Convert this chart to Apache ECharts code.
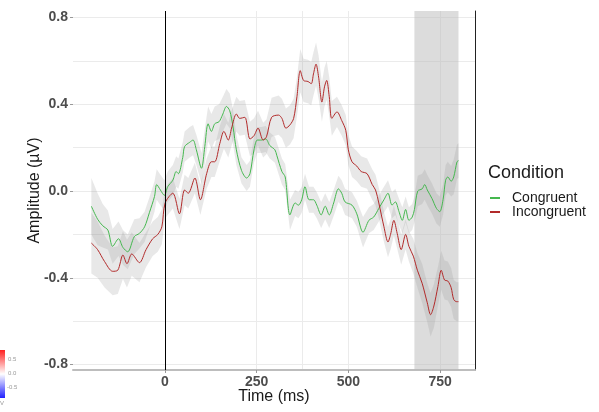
<!DOCTYPE html>
<html>
<head>
<meta charset="utf-8">
<script src="https://cdn.jsdelivr.net/npm/echarts@6.0.0/dist/echarts.min.js"></script>
<style>
html, body { margin: 0; padding: 0; background: #fff; }
#main { width: 599px; height: 412px; }
</style>
</head>
<body>
<div id="main"></div>
<script>
// ERP grand averages, time in ms, amplitude in µV, se = ribbon half width
var congruentTime = [
  -200, -183, -169, -155, -142, -126, -114, -101, -83, -69,
  -55, -42, -28, -22, -12, -1, 8, 22, 31, 37,
  49, 54, 68, 77, 86, 100, 109, 118, 127, 136,
  148, 157, 168, 177, 186, 195, 209, 223, 232, 243,
  252, 263, 275, 286, 300, 305, 319, 328, 341, 355,
  364, 373, 382, 393, 405, 414, 426, 437, 448, 460,
  473, 482, 491, 510, 523, 540, 556, 569, 583, 597,
  608, 619, 628, 638, 647, 656, 665, 674, 680, 689,
  701, 708, 715, 728, 740, 749, 758, 765, 771, 780,
  787, 796, 800
];
var congruentAmp = [
  -0.07, -0.13, -0.16, -0.18, -0.255, -0.22, -0.26, -0.28, -0.21, -0.195,
  -0.165, -0.10, -0.025, 0.03, 0.005, -0.02, 0.02, 0.05, 0.09, 0.08,
  0.155, 0.205, 0.225, 0.235, 0.19, 0.105, 0.205, 0.31, 0.275, 0.31,
  0.32, 0.35, 0.39, 0.37, 0.295, 0.19, 0.095, 0.06, 0.08, 0.19,
  0.235, 0.235, 0.24, 0.21, 0.19, 0.165, 0.09, 0.065, -0.11, -0.055,
  -0.065, -0.04, 0.02, -0.04, -0.04, -0.065, -0.11, -0.07, -0.11, -0.055,
  0.01, -0.01, -0.05, -0.065, -0.105, -0.19, -0.135, -0.12, -0.08, -0.04,
  -0.01, -0.065, -0.05, -0.095, -0.135, -0.085, -0.135, -0.12, -0.085, 0.0,
  0.01, 0.03, 0.005, -0.035, -0.08, -0.095, -0.04, 0.05, 0.065, 0.045,
  0.065, 0.135, 0.14
];
var congruentSe = [
  0.13, 0.12, 0.10, 0.09, 0.08, 0.08, 0.08, 0.08, 0.08, 0.07,
  0.07, 0.07, 0.07, 0.07, 0.07, 0.07, 0.07, 0.07, 0.07, 0.07,
  0.07, 0.07, 0.07, 0.07, 0.07, 0.07, 0.08, 0.08, 0.08, 0.08,
  0.08, 0.08, 0.08, 0.08, 0.08, 0.07, 0.06, 0.06, 0.06, 0.06,
  0.06, 0.06, 0.06, 0.06, 0.06, 0.06, 0.06, 0.06, 0.07, 0.06,
  0.06, 0.06, 0.06, 0.06, 0.06, 0.06, 0.06, 0.06, 0.06, 0.06,
  0.06, 0.06, 0.06, 0.06, 0.06, 0.07, 0.06, 0.06, 0.06, 0.06,
  0.06, 0.06, 0.06, 0.06, 0.06, 0.06, 0.06, 0.06, 0.06, 0.07,
  0.07, 0.07, 0.07, 0.07, 0.07, 0.07, 0.07, 0.07, 0.07, 0.07,
  0.08, 0.08, 0.08
];

var incongruentTime = [
  -200, -183, -164, -142, -128, -114, -103, -90, -69, -51,
  -33, -19, -8, 1, 22, 40, 54, 64, 82, 97,
  114, 127, 136, 150, 161, 173, 182, 195, 204, 218,
  232, 243, 254, 268, 277, 291, 310, 319, 330, 341,
  351, 360, 369, 378, 390, 399, 405, 412, 419, 428,
  435, 441, 448, 455, 469, 482, 493, 500, 510, 523,
  535, 551, 565, 574, 583, 597, 608, 615, 624, 633,
  644, 656, 665, 677, 688, 701, 715, 724, 733, 744,
  753, 762, 771, 780, 787, 795, 800
];
var incongruentAmp = [
  -0.24, -0.27, -0.325, -0.37, -0.365, -0.295, -0.335, -0.29, -0.33, -0.27,
  -0.22, -0.20, -0.165, -0.055, -0.01, -0.105, 0.005, -0.01, 0.06, -0.04,
  0.08, 0.135, 0.135, 0.22, 0.275, 0.235, 0.29, 0.355, 0.335, 0.34,
  0.24, 0.255, 0.29, 0.235, 0.25, 0.34, 0.35, 0.335, 0.29, 0.305,
  0.335, 0.435, 0.555, 0.51, 0.505, 0.495, 0.54, 0.585, 0.525, 0.41,
  0.48, 0.51, 0.435, 0.335, 0.365, 0.325, 0.28, 0.19, 0.135, 0.115,
  0.09, 0.08, 0.03, 0.005, -0.055, -0.165, -0.235, -0.20, -0.135, -0.195,
  -0.27, -0.20, -0.255, -0.30, -0.365, -0.425, -0.515, -0.57, -0.53, -0.44,
  -0.365, -0.41, -0.415, -0.445, -0.50, -0.51, -0.51
];
var incongruentSe = [
  0.14, 0.13, 0.12, 0.11, 0.11, 0.11, 0.11, 0.10, 0.09, 0.08,
  0.08, 0.08, 0.08, 0.07, 0.07, 0.07, 0.07, 0.07, 0.07, 0.07,
  0.07, 0.07, 0.07, 0.08, 0.08, 0.08, 0.08, 0.08, 0.08, 0.08,
  0.08, 0.08, 0.08, 0.08, 0.08, 0.09, 0.09, 0.09, 0.09, 0.09,
  0.09, 0.09, 0.10, 0.10, 0.10, 0.10, 0.10, 0.10, 0.10, 0.09,
  0.09, 0.09, 0.09, 0.08, 0.07, 0.07, 0.07, 0.07, 0.07, 0.07,
  0.07, 0.07, 0.07, 0.07, 0.07, 0.07, 0.07, 0.07, 0.07, 0.07,
  0.07, 0.07, 0.07, 0.08, 0.08, 0.09, 0.09, 0.10, 0.10, 0.09,
  0.09, 0.09, 0.09, 0.09, 0.09, 0.09, 0.09
];

var xTickValues = [0, 250, 500, 750];
var xGridValues = [0, 250, 375, 500, 750];
var yTickValues = [-0.8, -0.4, 0, 0.4, 0.8];
var yGridValues = [-0.8, -0.6, -0.4, -0.2, 0, 0.2, 0.4, 0.6, 0.8];
var shadedWindow = [680, 800];
var colorbarLabels = ['0.5', '0.0', '-0.5'];

var FONT = '"Liberation Sans", Arial, sans-serif';
var GREEN = '#45b84f';
var RED = '#b22a2a';

function pairs(t, v) {
  return t.map(function (x, i) { return [x, v[i]]; });
}

// ribbon polygon: upper edge forward, lower edge back, through the axes
function ribbon(t, v, se) {
  return function (params, api) {
    var pts = [];
    for (var i = 0; i < t.length; i++) pts.push(api.coord([t[i], v[i] + se[i]]));
    for (var j = t.length - 1; j >= 0; j--) pts.push(api.coord([t[j], v[j] - se[j]]));
    return {
      type: 'polygon',
      shape: { points: pts },
      style: { fill: 'rgba(150,150,150,0.22)' }
    };
  };
}

var chart = echarts.init(document.getElementById('main'));

var option = {
  animation: false,
  backgroundColor: '#fff',
  textStyle: { fontFamily: FONT },
  grid: { left: 73, right: 124, top: 11, bottom: 42, containLabel: false, outerBoundsMode: 'none' },
  title: {
    text: 'Condition',
    left: 488, top: 164, padding: 0,
    textStyle: { fontFamily: FONT, fontSize: 18, fontWeight: 'normal', color: '#1a1a1a' }
  },
  legend: {
    orient: 'vertical',
    left: 490, top: 191,
    padding: 0,
    itemGap: 0,
    itemWidth: 10, itemHeight: 2,
    icon: 'rect',
    textStyle: { fontFamily: FONT, fontSize: 14, color: '#1a1a1a', lineHeight: 14, padding: [0, 0, 0, 7] },
    data: ['Congruent', 'Incongruent']
  },
  xAxis: [{
    type: 'value', min: -250, max: 845, position: 'bottom',
    name: 'Time (ms)', nameLocation: 'middle', nameGap: 19, nameMoveOverlap: false,
    nameTextStyle: { fontFamily: FONT, fontSize: 16, color: '#1a1a1a' },
    axisLine: { show: true, onZero: false, lineStyle: { color: '#bdbdbd', width: 2 } },
    axisTick: { show: true, customValues: xTickValues, length: 3, lineStyle: { color: '#999' } },
    axisLabel: { customValues: xTickValues, fontFamily: FONT, fontSize: 14, fontWeight: 'bold', color: '#4d4d4d', margin: 5 },
    splitLine: { show: false }
  }, {
    type: 'value', min: -250, max: 845, position: 'top',
    axisLine: { show: false, onZero: false },
    axisTick: { show: false, customValues: xGridValues },
    axisLabel: { show: false },
    splitLine: { show: true, lineStyle: { color: '#ebebeb', width: 1 } }
  }],
  yAxis: [{
    type: 'value', min: -0.825, max: 0.83, position: 'left',
    name: 'Amplitude (µV)', nameLocation: 'middle', nameGap: 30, nameMoveOverlap: false,
    nameTextStyle: { fontFamily: FONT, fontSize: 16, color: '#1a1a1a' },
    axisLine: { show: false, onZero: false },
    axisTick: { show: true, customValues: yTickValues, length: 3, lineStyle: { color: '#999' } },
    axisLabel: {
      customValues: yTickValues, fontFamily: FONT, fontSize: 14, fontWeight: 'bold', color: '#4d4d4d', margin: 5,
      formatter: function (v) { return v.toFixed(1); }
    },
    splitLine: { show: false }
  }, {
    type: 'value', min: -0.825, max: 0.83, position: 'right',
    axisLine: { show: true, onZero: false, lineStyle: { color: '#222', width: 1 } },
    axisTick: { show: false, customValues: yGridValues },
    axisLabel: { show: false },
    splitLine: { show: true, lineStyle: { color: '#ebebeb', width: 1 } }
  }],
  series: [{
    type: 'custom', name: 'congruentRibbon', silent: true, clip: true, z: 2,
    renderItem: ribbon(congruentTime, congruentAmp, congruentSe),
    encode: { x: 0, y: 1 },
    data: [[0, 0]]
  }, {
    type: 'custom', name: 'incongruentRibbon', silent: true, clip: true, z: 2,
    renderItem: ribbon(incongruentTime, incongruentAmp, incongruentSe),
    encode: { x: 0, y: 1 },
    data: [[0, 0]]
  }, {
    type: 'line', name: 'Congruent', z: 3,
    data: pairs(congruentTime, congruentAmp),
    symbol: 'none', showSymbol: false, smooth: 0.3,
    lineStyle: { color: GREEN, width: 1 },
    itemStyle: { color: GREEN },
    markArea: {
      silent: true,
      itemStyle: { color: 'rgba(185,185,185,0.5)' },
      data: [[{ xAxis: shadedWindow[0] }, { xAxis: shadedWindow[1] }]]
    },
    markLine: {
      silent: true, symbol: 'none', animation: false,
      label: { show: false },
      lineStyle: { color: '#000', width: 1, type: 'solid' },
      data: [{ xAxis: 0 }]
    }
  }, {
    type: 'line', name: 'Incongruent', z: 3,
    data: pairs(incongruentTime, incongruentAmp),
    symbol: 'none', showSymbol: false, smooth: 0.3,
    lineStyle: { color: RED, width: 1 },
    itemStyle: { color: RED }
  }],
  graphic: [{
    // cut-off topo colour scale in the corner
    type: 'rect', left: 0, top: 350,
    shape: { width: 5, height: 48 },
    style: {
      fill: new echarts.graphic.LinearGradient(0, 0, 0, 1, [
        { offset: 0, color: '#ff2020' },
        { offset: 0.5, color: '#ffffff' },
        { offset: 1, color: '#2020ff' }
      ])
    }
  }, {
    type: 'text', left: 8, top: 356,
    style: { text: colorbarLabels[0], fontSize: 6, fill: '#999', fontFamily: FONT }
  }, {
    type: 'text', left: 8, top: 370,
    style: { text: colorbarLabels[1], fontSize: 6, fill: '#999', fontFamily: FONT }
  }, {
    type: 'text', left: 7, top: 384,
    style: { text: colorbarLabels[2], fontSize: 6, fill: '#999', fontFamily: FONT }
  }, {
    type: 'text', left: 0, top: 400,
    style: { text: 'V', fontSize: 6, fill: '#999', fontFamily: FONT }
  }]
};

chart.setOption(option);
</script>
</body>
</html>
